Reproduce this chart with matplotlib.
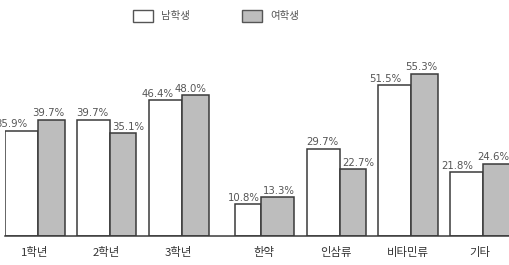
import matplotlib.pyplot as plt
import matplotlib.patches as mpatches
import numpy as np

plt.rcParams['font.family'] = ['Noto Sans CJK KR', 'DejaVu Sans']

categories = ['1학년', '2학년', '3학년', '한약', '인삼류', '비타민류', '기타']
male = [35.9, 39.7, 46.4, 10.8, 29.7, 51.5, 21.8]
female = [39.7, 35.1, 48.0, 13.3, 22.7, 55.3, 24.6]
legend_labels = ['남학생', '여학생']

W, H = 509, 265
fig = plt.figure(figsize=(W / 100, H / 100), dpi=100)

# axes placed in pixel terms
base_px = 236
top_px = 40
ax = fig.add_axes([5 / W, (H - base_px) / H, 504 / W, (base_px - top_px) / H])

pitch = 71.8
px_per_pct = 2.93
ax.set_xlim(0, 504 / pitch)
ax.set_ylim(0, (base_px - top_px) / px_per_pct)

edge = '#3a3a3a'
fill = '#bdbdbd'
txt = '#555555'

lefts = np.arange(len(categories)) + np.where(np.arange(len(categories)) >= 3, 0.2, 0.0)
wm = np.array([33, 33, 33, 26.5, 33, 33, 33]) / pitch
wf = np.array([26.5, 26.5, 27, 32.5, 26.5, 27, 27]) / pitch

ax.bar(lefts, male, width=wm, align='edge', color='white', edgecolor=edge, linewidth=1.1)
ax.bar(lefts + wm, female, width=wf, align='edge', color=fill, edgecolor=edge, linewidth=1.1)

# label offsets (px) relative to bar centre
off_m = [-10, -1.5, -8, -4, -1, -10, -9]
off_f = [-3, 5, -4.5, 1.5, 5, -3.5, -3.5]
for i in range(len(categories)):
    ax.annotate(f'{male[i]:.1f}%', (lefts[i] + wm[i] / 2, male[i]), xytext=(off_m[i], 1.5),
                textcoords='offset pixels', ha='center', va='bottom', fontsize=7.3,
                color=txt, family='DejaVu Sans', annotation_clip=False)
    ax.annotate(f'{female[i]:.1f}%', (lefts[i] + wm[i] + wf[i] / 2, female[i]), xytext=(off_f[i], 1.5),
                textcoords='offset pixels', ha='center', va='bottom', fontsize=7.3,
                color=txt, family='DejaVu Sans', annotation_clip=False)

ax.set_xticks(lefts + (wm + wf) / 2)
ax.set_xticklabels(categories, fontsize=8.2, color='#333333')
ax.tick_params(axis='x', length=0, pad=8)
ax.set_yticks([])
for s in ['top', 'right', 'left']:
    ax.spines[s].set_visible(False)
ax.spines['bottom'].set_color(edge)
ax.spines['bottom'].set_linewidth(1.1)

# legend drawn in figure pixels
for x0, fc, lab in [(133, 'white', legend_labels[0]), (242, fill, legend_labels[1])]:
    fig.patches.append(mpatches.Rectangle((x0 / W, (H - 22) / H), 20 / W, 12 / H,
                                          transform=fig.transFigure, facecolor=fc,
                                          edgecolor='#555555', linewidth=1.0))
    fig.text((x0 + 28) / W, (H - 16) / H, lab, fontsize=7.5, color='#555555', va='center')

fig.savefig('out.png', dpi=100)
